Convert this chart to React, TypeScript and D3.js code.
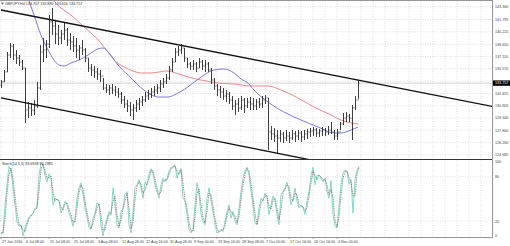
import React from 'react';
import * as d3 from 'd3';

// ---- Data (GBPJPY H4) ----
const barHigh = [
  134.15,135.41,137.68,138.82,138.69,137.93,137.30,136.67,135.66,131.37,
  131.25,131.63,133.90,138.56,139.45,139.20,142.35,143.23,141.72,141.09,
  140.46,141.34,140.71,140.08,139.70,139.45,138.56,139.20,138.19,136.92,
  136.17,135.92,135.66,135.41,134.40,133.64,133.52,133.64,133.39,133.14,
  132.63,132.13,131.63,131.37,131.12,131.63,131.88,132.13,132.63,132.89,
  133.14,133.39,133.64,134.15,134.40,134.90,135.92,136.92,138.19,138.44,
  138.69,138.19,136.92,136.42,136.67,136.42,136.92,136.67,136.67,136.42,
  135.66,134.40,133.64,133.39,133.14,132.89,132.63,132.13,131.63,131.88,
  132.13,131.88,131.88,132.00,131.88,131.75,131.88,132.13,132.26,131.88,
  128.34,128.09,127.84,127.84,127.59,127.84,127.59,127.84,127.71,127.84,
  127.71,127.84,127.97,128.09,128.22,128.09,127.97,128.22,128.09,128.34,
  128.85,127.84,127.97,128.85,129.98,130.11,129.86,131.00,132.13,134.16,
];
const barLow = [
  133.14,133.90,135.16,136.92,136.67,136.17,135.92,135.41,128.72,129.35,
  129.61,129.73,130.62,132.89,136.42,136.92,138.19,139.83,138.69,138.56,
  138.69,139.20,138.44,137.93,137.68,136.92,136.67,137.30,136.42,135.16,
  134.65,134.40,134.15,133.90,132.89,132.51,132.26,132.38,132.13,131.88,
  131.12,130.62,130.11,129.61,129.10,130.11,130.36,130.87,131.37,131.63,
  131.88,132.13,132.38,132.63,133.14,133.64,134.15,135.16,136.42,137.18,
  137.43,136.42,135.66,135.41,135.41,135.16,135.66,135.41,135.16,135.16,
  133.64,132.89,132.13,131.88,131.63,131.37,131.12,130.36,129.73,130.11,
  130.36,129.98,130.62,130.36,130.36,130.36,130.62,130.62,131.12,125.32,
  126.58,126.33,124.94,126.33,126.20,126.45,126.20,126.58,126.33,126.58,
  126.33,126.58,126.71,126.96,127.08,126.96,126.96,127.08,127.08,127.21,
  127.34,126.58,126.58,127.84,128.47,128.85,128.85,126.58,130.36,131.76,
];
const barClose = [
  133.90,135.16,137.30,138.44,137.30,136.92,136.42,135.66,130.36,130.62,
  130.36,130.87,133.14,137.68,137.93,138.69,141.47,140.96,139.95,139.45,
  139.95,140.46,139.20,138.94,138.44,137.93,138.19,137.93,136.92,135.66,
  135.41,135.16,134.90,134.65,133.14,132.89,133.14,132.89,132.63,132.38,
  131.63,131.12,130.87,130.36,130.62,131.12,131.37,131.63,132.13,132.38,
  132.63,132.89,133.14,133.64,133.90,134.40,135.41,136.42,137.68,137.93,
  138.19,136.92,136.17,135.92,136.17,135.66,136.42,135.92,136.17,135.41,
  134.15,133.39,132.89,132.63,132.13,132.38,131.63,130.87,131.12,130.62,
  131.63,130.87,131.37,131.12,130.87,131.37,131.12,131.63,131.88,127.59,
  127.34,127.08,126.83,127.34,126.83,127.08,126.83,127.34,127.08,127.46,
  126.96,127.34,127.59,127.71,127.84,127.46,127.71,127.84,127.59,127.84,
  127.59,127.08,127.59,128.60,129.35,129.61,129.35,130.62,131.63,133.76,
];
const firstOpen = 133.5;

// moving averages: [bar index, price]
const maBlue: [number, number][] = [
  [9,144.5],[11,142.35],[13.3,139.83],[15.7,137.93],[17.7,136.67],[19.3,136.04],[21,135.92],
  [23.3,136.29],[26,136.67],[29,137.3],[32.3,138.06],[34,138.19],[36,137.56],[39,136.04],
  [42.3,134.78],[45.7,133.52],[49,132.51],[52.3,132.0],[55.7,132.0],[57.7,132.26],[62.3,133.27],
  [66.7,134.53],[71,135.41],[74.3,135.54],[77.7,135.03],[80,134.28],[82.3,133.77],[84.3,132.89],
  [89,131.37],[94.3,130.11],[100,129.1],[105.7,128.22],[111,127.46],[113.3,127.46],[116.7,127.84],[119,128.22],
];
const maRed: [number, number][] = [
  [16,144.75],[20,143.23],[23.3,142.35],[27.7,140.84],[30.7,139.83],[33.3,138.82],[35.7,137.68],
  [37.7,136.67],[39.3,136.17],[41,135.79],[44,135.29],[46.7,135.03],[50,135.03],[52.7,135.16],
  [55,135.29],[58.3,135.03],[62.3,134.53],[66.7,134.15],[72.3,133.77],[77.7,133.64],[80,133.52],
  [83.3,133.39],[86.7,133.39],[89,133.39],[93.3,132.89],[99,131.88],[104.3,130.74],[110,129.73],
  [113.3,129.1],[116.7,128.72],[119,128.6],
];
const channelUpper: [number, number][] = [[0,142.98],[164,130.79]];
const channelLower: [number, number][] = [[0,131.88],[164,119.46]];

const stochMain = [
  4,4,42,69,94,89,65,42,19,13, 15,0,11,19,26,28,31,38,38,82, 98,96,82,73,84,78,42,51,49,47,
  31,38,47,42,31,24,13,24,51,65, 72,56,38,26,11,9,24,31,45,42, 15,0,15,24,33,28,65,42,15,11,
  33,38,56,60,15,4,33,65,69,76, 65,51,73,69,84,91,84,69,60,51, 69,78,73,78,87,93,93,96,78,87,
  91,51,47,29,9,4,9,42,72,56, 29,20,15,51,65,47,33,15,4,6, 9,6,20,33,42,24,33,20,15,38,
  60,78,89,93,82,60,42,17,15,38, 51,47,58,51,29,42,54,47,29,15, 56,60,65,73,60,42,51,65,47,38,
  42,38,29,47,60,82,93,69,82,82, 78,73,78,60,51,75,29,13,11,40, 70,85,89,87,70,76,31,76,89,94,
];
const stochSignal = [
  4,4,23,56,82,92,77,54,31,16, 14,8,6,15,23,27,30,35,38,60, 90,97,89,78,79,81,60,47,50,48,
  39,35,43,45,37,28,19,19,38,58, 69,64,47,32,19,10,17,28,38,44, 29,8,8,20,29,31,47,54,29,13,
  22,36,47,58,38,10,19,49,67,73, 71,58,62,71,77,88,88,77,65,56, 60,74,76,76,83,90,93,95,87,83,
  89,71,49,38,19,7,7,26,57,64, 43,25,18,33,58,56,40,24,10,5, 8,8,13,27,38,33,29,27,18,27,
  49,69,84,91,88,71,51,30,16,27, 45,49,53,55,40,36,48,51,38,22, 36,58,63,69,67,51,47,58,56,43,
  40,40,34,38,54,71,88,81,76,82, 80,76,76,69,56,63,52,21,12,26, 55,78,87,88,79,73,54,54,83,93,
];

// grid levels of the price axis (the 134.015 label is hidden under the bid marker)
const priceTicks = [143.36,141.795,140.225,138.65,137.11,135.57,134.015,132.455,130.905,129.34,127.8,126.26,124.685];
const priceTickLabels = ['143.360','141.795','140.225','138.650','137.110','135.570','','132.455','130.905','129.340','127.800','126.260','124.685'];
const stochTicks = [100,80,20,0];
const timeLabels = ['27 Jun 2016','6 Jul 08:00','15 Jul 08:00','25 Jul 08:00','3 Aug 08:00','12 Aug 08:00','22 Aug 16:00','31 Aug 08:00','9 Sep 00:00','19 Sep 16:00','28 Sep 08:00','7 Oct 00:00','17 Oct 16:00','26 Oct 16:00','4 Nov 00:00'];
const lastPrice = 133.757;
const titleText = 'GBPJPY,H4  133.707 133.880 133.616 133.757';
const stochTitle = 'Stoch(14,3,3) 93.6948 93.2985';

// ---- Layout ----
const PLOT_R = 492;
const MAIN_TOP = 1, MAIN_BOT = 159;
const SUB_TOP = 160, SUB_BOT = 237;
const FONT = '"Liberation Sans", Arial, sans-serif';
const FS = 3.7;

export default function App() {
  const x = d3.scaleLinear().domain([0, 164]).range([1, 493]);
  const xs = d3.scaleLinear().domain([0, 246]).range([1, 493]);
  const y = d3.scaleLinear().domain([124.685, 143.36]).range([155, 7]);
  const ys = d3.scaleLinear().domain([0, 100]).range([236, 162]);

  const pairLine = d3.line<[number, number]>().x(d => x(d[0])).y(d => y(d[1]));
  const maLine = d3.line<[number, number]>().x(d => x(d[0])).y(d => y(d[1])).curve(d3.curveMonotoneX);
  const stLine = d3.line<number>().x((_, i) => xs(i)).y(d => ys(d));

  const vGrid = d3.range(0, 42).map(k => x(k * 4));

  let barPath = '';
  barClose.forEach((c, i) => {
    const o = i === 0 ? firstOpen : barClose[i - 1];
    const cx = Math.round(x(i)) + 0.5;
    barPath += `M${cx},${y(barHigh[i])}V${y(barLow[i])}M${cx - 1},${y(o)}H${cx}M${cx},${y(c)}H${cx + 1}`;
  });

  const bidY = y(lastPrice);

  return (
    <svg width={510} height={246} style={{ position: 'fixed', left: 0, top: 0, display: 'block', background: '#fff' }}
      fontFamily={FONT}>
      <defs>
        <clipPath id="mainClip"><rect x={0} y={MAIN_TOP} width={PLOT_R} height={MAIN_BOT - MAIN_TOP} /></clipPath>
        <clipPath id="subClip"><rect x={0} y={SUB_TOP} width={PLOT_R} height={SUB_BOT - SUB_TOP} /></clipPath>
      </defs>
      <rect x={0} y={0} width={510} height={246} fill="#fff" />

      {/* grids */}
      <g stroke="#c9c9c9" strokeWidth={0.6} strokeDasharray="1,1.5">
        {vGrid.map((gx, i) => (
          <g key={i}>
            <line x1={gx} x2={gx} y1={MAIN_TOP} y2={MAIN_BOT} />
            <line x1={gx} x2={gx} y1={SUB_TOP} y2={SUB_BOT} />
          </g>
        ))}
        {priceTicks.map((v, i) => <line key={'h' + i} x1={0} x2={PLOT_R} y1={y(v)} y2={y(v)} />)}
        {[80, 20].map(v => <line key={'s' + v} x1={0} x2={PLOT_R} y1={ys(v)} y2={ys(v)} />)}
      </g>

      {/* main panel */}
      <g clipPath="url(#mainClip)">
        <line x1={0} x2={PLOT_R} y1={bidY} y2={bidY} stroke="#c8c8c8" strokeWidth={0.8} />
        <path d={maLine(maRed) || ''} fill="none" stroke="#e88888" strokeWidth={1} />
        <path d={maLine(maBlue) || ''} fill="none" stroke="#7b7bd8" strokeWidth={1} />
        <path d={barPath} fill="none" stroke="#2a2a2a" strokeWidth={0.9} />
        <path d={pairLine(channelUpper) || ''} fill="none" stroke="#111" strokeWidth={1.3} />
        <path d={pairLine(channelLower) || ''} fill="none" stroke="#111" strokeWidth={1.3} />
      </g>

      {/* stochastic panel */}
      <g clipPath="url(#subClip)">
        <path d={stLine(stochMain) || ''} fill="none" stroke="#7fd0c4" strokeWidth={0.9} />
        <path d={stLine(stochSignal) || ''} fill="none" stroke="#555" strokeWidth={0.7} strokeDasharray="1,0.8" />
      </g>

      {/* frame */}
      <line x1={0} x2={PLOT_R + 0.5} y1={0.5} y2={0.5} stroke="#999" strokeWidth={1} />
      <line x1={0} x2={PLOT_R + 0.5} y1={MAIN_BOT + 0.5} y2={MAIN_BOT + 0.5} stroke="#333" strokeWidth={1.2} />
      <line x1={0} x2={PLOT_R + 0.5} y1={SUB_BOT + 0.5} y2={SUB_BOT + 0.5} stroke="#777" strokeWidth={0.8} />
      <line x1={PLOT_R + 0.5} x2={PLOT_R + 0.5} y1={0} y2={SUB_BOT + 1} stroke="#999" strokeWidth={1} />

      {/* titles */}
      <path d="M1,2.5 L4,2.5 L2.5,5 Z" fill="#777" />
      <text x={5} y={5} fontSize={FS} fill="#333">{titleText}</text>
      <text x={2} y={165} fontSize={FS} fill="#333">{stochTitle}</text>

      {/* price axis */}
      <g fontSize={FS} fill="#444">
        {priceTicks.map((v, i) => priceTickLabels[i] ? (
          <text key={i} x={495} y={y(v) + 1.3}>{priceTickLabels[i]}</text>
        ) : null)}
        {stochTicks.map(v => (
          <text key={'st' + v} x={495} y={ys(v) + 1.3}>{String(v)}</text>
        ))}
      </g>
      <rect x={493} y={bidY - 2.7} width={17} height={5.4} fill="#000" />
      <text x={495} y={bidY + 1.3} fontSize={FS} fill="#fff">{lastPrice.toFixed(3)}</text>

      {/* time axis */}
      <g fontSize={FS} fill="#444">
        {timeLabels.map((t, k) => (
          <g key={k}>
            <line x1={x(k * 8)} x2={x(k * 8)} y1={SUB_BOT} y2={SUB_BOT + 2} stroke="#777" strokeWidth={0.6} />
            <text x={x(k * 8) + 1} y={242.8}>{t}</text>
          </g>
        ))}
      </g>
    </svg>
  );
}
